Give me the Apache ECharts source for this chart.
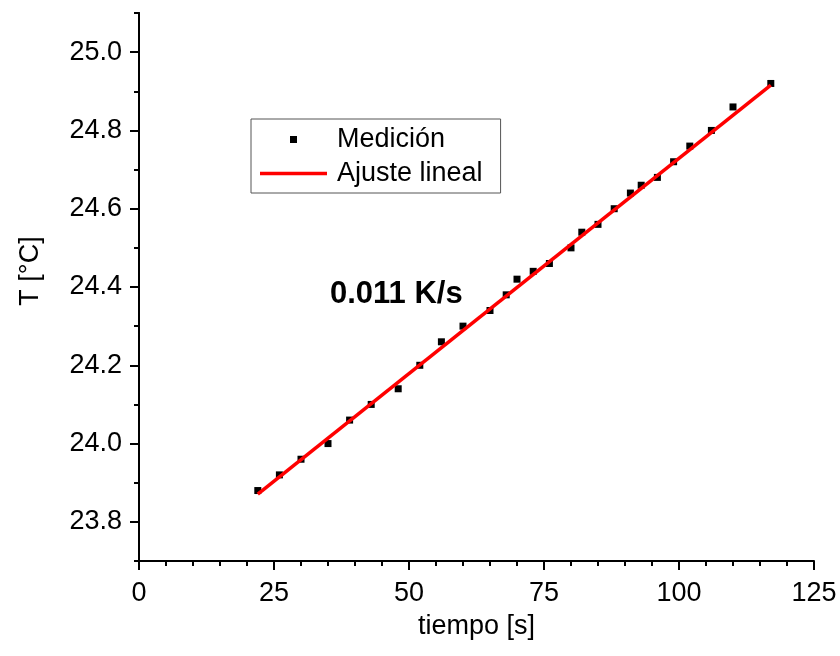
<!DOCTYPE html>
<html>
<head>
<meta charset="utf-8">
<script src="https://cdn.jsdelivr.net/npm/echarts@6/dist/echarts.min.js"></script>
<style>
  html, body { margin: 0; padding: 0; background: #fff; }
  #chart { width: 840px; height: 656px; }
</style>
</head>
<body>
<div id="chart"></div>
<script>
// Measured temperature against time
const tiempo = [22, 26, 30, 35, 39, 43, 48, 52, 56, 60, 65, 68, 70, 73, 76, 80, 82, 85, 88, 91, 93, 96, 99, 102, 106, 110, 117];
const temperatura = [23.88, 23.92, 23.96, 24.00, 24.06, 24.10, 24.14, 24.20, 24.26, 24.30, 24.34, 24.38, 24.42, 24.44, 24.46, 24.50, 24.54, 24.56, 24.60, 24.64, 24.66, 24.68, 24.72, 24.76, 24.80, 24.86, 24.92];

// Linear fit: slope (K/s) and intercept (°C), drawn over the measured span
const pendiente = 0.011;
const ordenada = 23.629;
const ajusteX = [22, 117];

// Axis ticks
const xTicks = [0, 25, 50, 75, 100, 125];
const yMajorTicks = [23.8, 24.0, 24.2, 24.4, 24.6, 24.8, 25.0];
const yMinorTicks = [23.7, 23.9, 24.1, 24.3, 24.5, 24.7, 24.9, 25.1];

const FONT = '"Liberation Sans", Arial, Helvetica, sans-serif';
const FONT_SIZE = 27;
const AXIS_COLOR = '#000';

const ajusteData = ajusteX.map(x => [x, ordenada + pendiente * x]);
const medicionData = tiempo.map((t, i) => [t, temperatura[i]]);

const chart = echarts.init(document.getElementById('chart'), null, { renderer: 'canvas' });

const axisLineStyle = { color: AXIS_COLOR, width: 2 };

chart.setOption({
  animation: false,
  backgroundColor: '#fff',
  textStyle: { fontFamily: FONT },
  grid: { left: 139, right: 26, top: 13, bottom: 95, containLabel: false, outerBoundsMode: 'none' },
  legend: {
    orient: 'vertical',
    left: 251,
    top: 119,
    padding: [7, 18, 6, 9],
    itemWidth: 67,
    itemHeight: 7,
    itemGap: 7,
    borderColor: '#555',
    borderWidth: 1,
    borderRadius: 0,
    backgroundColor: '#fff',
    selectedMode: false,
    textStyle: { fontFamily: FONT, fontSize: FONT_SIZE, color: '#000', padding: [0, 0, 0, 5] },
    data: [
      { name: 'Medición', icon: 'path://M0,0H1V1H0Z', itemStyle: { color: '#000', opacity: 1 } },
      { name: 'Ajuste lineal', icon: 'path://M0,0H67V3.5H0Z', itemStyle: { color: '#ff0000', opacity: 1 } }
    ]
  },
  xAxis: {
    type: 'value',
    min: xTicks[0],
    max: xTicks[xTicks.length - 1],
    interval: 25,
    name: 'tiempo [s]',
    nameLocation: 'middle',
    nameGap: 52,
    nameTextStyle: { fontFamily: FONT, fontSize: FONT_SIZE, color: '#000' },
    axisLine: { show: true, onZero: false, lineStyle: axisLineStyle },
    axisTick: { show: true, length: 9, lineStyle: axisLineStyle },
    minorTick: { show: true, splitNumber: 5, length: 5, lineStyle: axisLineStyle },
    axisLabel: { fontFamily: FONT, fontSize: FONT_SIZE, color: '#000', margin: 19 },
    splitLine: { show: false }
  },
  yAxis: [
    {
      type: 'value',
      min: 23.7,
      max: 25.1,
      position: 'left',
      name: 'T [°C]',
      nameLocation: 'middle',
      nameGap: 95,
      nameTextStyle: { fontFamily: FONT, fontSize: FONT_SIZE, color: '#000', padding: [0, 0, 0, 32] },
      axisLine: { show: true, onZero: false, lineStyle: axisLineStyle },
      axisTick: { show: true, length: 9, customValues: yMajorTicks, lineStyle: axisLineStyle },
      axisLabel: {
        customValues: yMajorTicks,
        fontFamily: FONT, fontSize: FONT_SIZE, color: '#000', margin: 17,
        formatter: v => Number(v).toFixed(1)
      },
      splitLine: { show: false }
    },
    {
      type: 'value',
      min: 23.7,
      max: 25.1,
      position: 'left',
      axisLine: { show: true, onZero: false, lineStyle: axisLineStyle },
      axisTick: { show: true, length: 5, customValues: yMinorTicks, lineStyle: axisLineStyle },
      axisLabel: { show: false },
      splitLine: { show: false }
    }
  ],
  series: [
    {
      name: 'Medición',
      type: 'scatter',
      symbol: 'rect',
      symbolSize: 7,
      itemStyle: { color: '#000', opacity: 1 },
      z: 2,
      data: medicionData
    },
    {
      name: 'Ajuste lineal',
      type: 'line',
      symbol: 'none',
      showSymbol: false,
      lineStyle: { color: '#ff0000', width: 3.5 },
      itemStyle: { color: '#ff0000' },
      z: 3,
      data: ajusteData
    }
  ],
  graphic: [
    {
      type: 'text',
      left: 330,
      top: 279,
      z: 10,
      style: {
        text: '0.011 K/s',
        font: 'bold 31px ' + FONT,
        fill: '#000'
      }
    }
  ]
});
</script>
</body>
</html>
